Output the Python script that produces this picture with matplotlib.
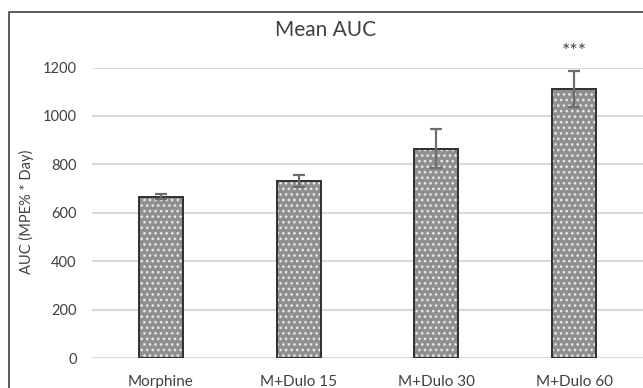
#!/usr/bin/env python3
"""Mean AUC bar chart (Excel-style, dotted bars with error bars)."""

import matplotlib

matplotlib.use("Agg")
import matplotlib.pyplot as plt
from matplotlib.lines import Line2D

groups = ["Morphine", "M+Dulo 15", "M+Dulo 30", "M+Dulo 60"]
mean_auc = [667, 731, 865, 1111]
err_auc = [10, 25, 80, 76]
stars = ["", "", "", "***"]
yticks = [0, 200, 400, 600, 800, 1000, 1200]

W, H = 643, 388
TXT = "#404040"

plt.rcParams["font.family"] = ["Lato", "DejaVu Sans"]
plt.rcParams["hatch.linewidth"] = 1.1

fig = plt.figure(figsize=(W / 100, H / 100), dpi=100)
ax = fig.add_axes([92 / W, 1 - 358 / H, (643 - 92) / W, (358 - 67.5) / H])

x = list(range(len(groups)))
# dotted fill first, then the dark outline on top
ax.bar(x, mean_auc, width=0.32, color="#8e9090", edgecolor="#e8e8e8",
       hatch="...", linewidth=0, zorder=2)
ax.bar(x, mean_auc, width=0.32, facecolor="none", edgecolor="#303030",
       linewidth=1.4, zorder=3)
ax.errorbar(x, mean_auc, yerr=err_auc, fmt="none", ecolor="#6e6e6e",
            elinewidth=1.6, capsize=4.5, capthick=1.6, zorder=4)

for xi, s in zip(x, stars):
    if s:
        ax.text(xi, 1268, s, ha="center", va="center", fontsize=14,
                color=TXT, clip_on=False)

ax.set_xlim(-0.5, len(groups) - 0.5)
ax.set_ylim(0, 1200)
ax.set_yticks(yticks)
ax.set_xticks(x)
ax.set_xticklabels(groups)
ax.yaxis.grid(True, color="#d9d9d9", linewidth=1.5, zorder=0)
ax.set_axisbelow(True)
for sp in ax.spines.values():
    sp.set_visible(False)
ax.tick_params(axis="y", length=0, pad=11, labelsize=10.5, labelcolor=TXT)
ax.tick_params(axis="x", length=0, pad=12, labelsize=11, labelcolor=TXT)

fig.text(26 / W, 1 - 212 / H, "AUC (MPE% * Day)", rotation=90, ha="center",
         va="center", fontsize=10.5, color=TXT)
fig.text(326 / W, 1 - 30 / H, "Mean AUC", ha="center", va="center",
         fontsize=15, color=TXT)

# chart area border (right and bottom edges fall outside the image)
fig.add_artist(Line2D([9 / W, 9 / W, 1.0], [0, 1 - 12 / H, 1 - 12 / H],
                      transform=fig.transFigure, color="#404040", linewidth=1.2))

fig.savefig("out.png", dpi=100)
